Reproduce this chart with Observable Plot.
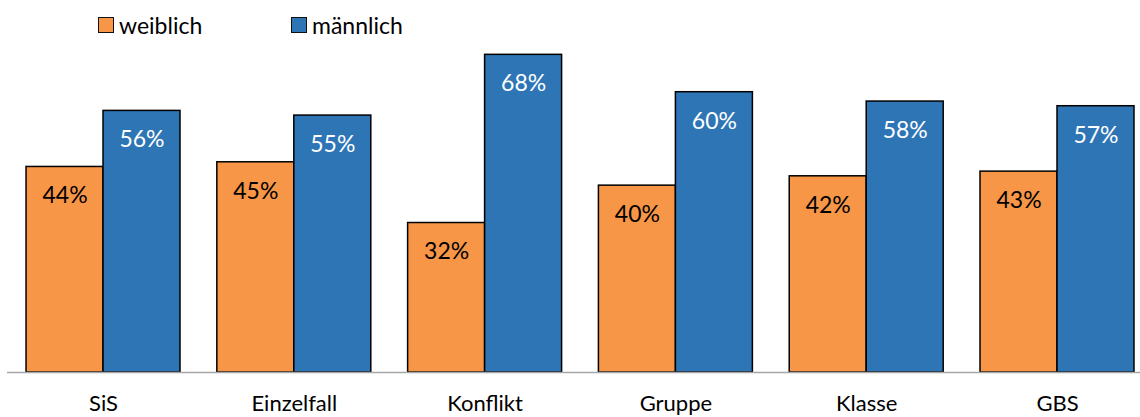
<!DOCTYPE html>
<html>
<head>
<meta charset="utf-8">
<script src="https://cdn.jsdelivr.net/npm/d3@7"></script>
<script src="https://cdn.jsdelivr.net/npm/@observablehq/plot@0.6"></script>
<style>
  body { margin: 0; background: #fff; font-family: Lato, "DejaVu Sans", sans-serif; }
  #legend { position: relative; height: 45px; width: 1140px; }
  .item { position: absolute; top: 7px; display: flex; align-items: center; font-size: 23px; color: #000; line-height: 36px; }
  .swatch { width: 14px; height: 14px; border: 1.5px solid #111; margin-right: 5px; }
</style>
</head>
<body>
<div id="legend"></div>
<div id="chart"></div>
<script>
// Anteil nach Geschlecht je Angebotsform (in %)
const categories = ["SiS", "Einzelfall", "Konflikt", "Gruppe", "Klasse", "GBS"];
const weiblich = [44, 45, 32, 40, 42, 43];
const maennlich = [56, 55, 68, 60, 58, 57];
const seriesNames = ["weiblich", "männlich"];
const colors = ["#F79646", "#2E75B6"];

const rows = categories.flatMap((cat, i) => [
  {cat, series: seriesNames[0], value: weiblich[i]},
  {cat, series: seriesNames[1], value: maennlich[i]}
]);

const width = 1140;
const marginLeft = 7;
const xOpts = {domain: categories, paddingInner: 0.193, paddingOuter: 0.0656, align: 0.76, round: false};

// width of one category band, split between the two series
const band = d3.scaleBand(categories, [marginLeft, width])
  .paddingInner(xOpts.paddingInner)
  .paddingOuter(xOpts.paddingOuter)
  .align(xOpts.align)
  .bandwidth();
const half = band / 2;

const legend = d3.select("#legend");
const legendLeft = [98, 291];
seriesNames.forEach((name, i) => {
  const item = legend.append("div").attr("class", "item").style("left", legendLeft[i] + "px");
  item.append("div").attr("class", "swatch").style("background", colors[i]);
  item.append("span").text(name);
});

const fem = rows.filter(d => d.series === seriesNames[0]);
const mal = rows.filter(d => d.series === seriesNames[1]);

const chart = Plot.plot({
  width,
  height: 372,
  marginTop: 0,
  marginBottom: 45,
  marginLeft,
  marginRight: 0,
  style: {fontFamily: "Lato, 'DejaVu Sans', sans-serif", fontSize: "22px", background: "#fff"},
  x: {...xOpts, label: null},
  y: {domain: [0, 70], axis: null},
  marks: [
    Plot.barY(fem, {x: "cat", y: "value", fill: colors[0], stroke: "#000", strokeWidth: 1.5, insetRight: half}),
    Plot.barY(mal, {x: "cat", y: "value", fill: colors[1], stroke: "#000", strokeWidth: 1.5, insetLeft: half}),
    Plot.ruleY([0], {stroke: "#A6A6A6", strokeWidth: 1.5}),
    Plot.text(fem, {x: "cat", y: "value", text: d => d.value + "%", dx: -half / 2, dy: 29, fill: "#000", fontSize: 23}),
    Plot.text(mal, {x: "cat", y: "value", text: d => d.value + "%", dx: half / 2, dy: 29, fill: "#fff", fontSize: 23}),
    Plot.axisX({tickSize: 0, tickPadding: 23, fontSize: 22, fill: "#000", label: null})
  ]
});

document.getElementById("chart").appendChild(chart);
</script>
</body>
</html>
